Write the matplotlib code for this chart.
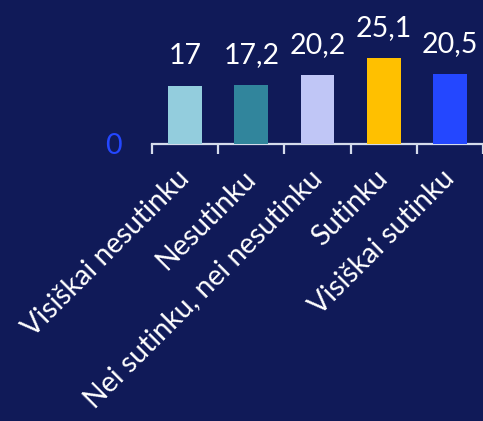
import matplotlib
matplotlib.use("Agg")
import matplotlib.pyplot as plt
import numpy as np

categories = ["Visiškai nesutinku", "Nesutinku", "Nei sutinku, nei nesutinku", "Sutinku", "Visiškai sutinku"]
values = [17, 17.2, 20.2, 25.1, 20.5]
value_labels = ["17", "17,2", "20,2", "25,1", "20,5"]
colors = ["#93CDDD", "#31859C", "#C0C6F6", "#FFC000", "#2447FF"]

BG = "#101A58"
FONT = "Lato"

W, H = 483, 421
fig = plt.figure(figsize=(W / 100, H / 100), dpi=100, facecolor=BG)
ax_left = 152 / W
ax_bottom = (H - 144) / H
ax = fig.add_axes([ax_left, ax_bottom, 1 - ax_left, 1 - ax_bottom])
ax.set_facecolor(BG)

x = np.arange(len(categories))
ax.bar(x, values, width=0.51, color=colors, zorder=3)
ax.set_xlim(-0.5, len(categories) - 0.5)
ax.set_ylim(0, 144 / 3.42)

for xi, v, lab in zip(x, values, value_labels):
    ax.annotate(lab, (xi, v), xytext=(0, 12), textcoords="offset points",
                ha="center", va="bottom", color="white", fontsize=20.5, family=FONT)

for s in ["top", "right", "left"]:
    ax.spines[s].set_visible(False)
ax.spines["bottom"].set_color("#D5DCEB")
ax.spines["bottom"].set_linewidth(1.6)

ax.set_xticks(x)
ax.set_xticklabels(categories, rotation=45, ha="right", va="center",
                   rotation_mode="anchor", color="white", fontsize=20.5, family=FONT)
ax.tick_params(axis="x", which="major", length=0, pad=22)
ax.set_xticks(np.arange(-0.5, len(categories)), minor=True)
ax.tick_params(axis="x", which="minor", length=7, width=1.6, color="#D5DCEB")

ax.set_yticks([0])
ax.set_yticklabels(["0"], color="#2447FF", fontsize=20.5, family=FONT)
ax.tick_params(axis="y", length=0, pad=22)

fig.savefig("out.png", dpi=100, facecolor=BG)
